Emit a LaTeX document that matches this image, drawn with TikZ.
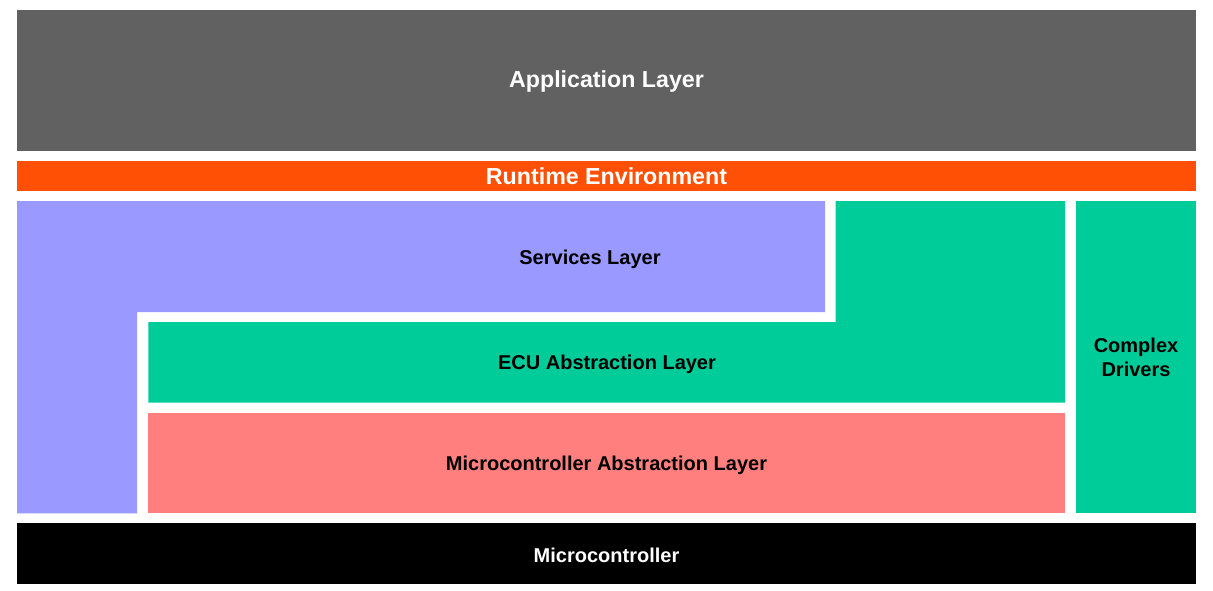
\documentclass[tikz,border=0pt]{standalone}
\usepackage{fontspec}
\setmainfont{Liberation Sans}
\definecolor{appgray}{HTML}{616161}
\definecolor{rteorange}{HTML}{FF5005}
\definecolor{svcblue}{HTML}{9999FF}
\definecolor{ecugreen}{HTML}{00CC99}
\definecolor{mcalpink}{HTML}{FF7F7F}
\begin{document}
\begin{tikzpicture}[x=0.75pt,y=-0.75pt,
  lbl/.style={font=\bfseries\fontsize{15}{18}\selectfont, text=black, align=center},
  biglbl/.style={font=\bfseries\fontsize{17.4}{20}\selectfont, text=white},
  whitelbl/.style={font=\bfseries\fontsize{15}{18}\selectfont, text=white}]
\useasboundingbox (0,0) rectangle (1213,590);
% Application layer
\fill[appgray] (17,9.5) rectangle (1196,150.5);
\node[biglbl] (app) at (606.5,81.5) {Application Layer};
% RTE
\fill[rteorange] (17,160.7) rectangle (1196,191);
\node[biglbl] (rte) at (606.5,176.5) {Runtime Environment};
% Services layer (L-shape)
\fill[svcblue] (17,201) -- (825,201) -- (825,312) -- (137,312) -- (137,513.3) -- (17,513.3) -- cycle;
\node[lbl] (svc) at (590,259) {Services Layer};
% ECU abstraction (L-shape)
\fill[ecugreen] (835.5,201) -- (1065,201) -- (1065,402.7) -- (148.3,402.7) -- (148.3,322) -- (835.5,322) -- cycle;
\node[lbl] (ecu) at (607,364) {ECU Abstraction Layer};
% Complex drivers
\fill[ecugreen] (1075.7,201) rectangle (1196,513.3);
\node[lbl] (cdd) at (1136,357.5) {Complex\\Drivers};
% MCAL
\fill[mcalpink] (148.3,412.7) rectangle (1065,513.3);
\node[lbl] (mcal) at (606.5,465) {Microcontroller Abstraction Layer};
% Microcontroller
\fill[black] (17,523.3) rectangle (1196,584.3);
\node[whitelbl] (mcu) at (606.5,555.5) {Microcontroller};
\end{tikzpicture}
\end{document}
